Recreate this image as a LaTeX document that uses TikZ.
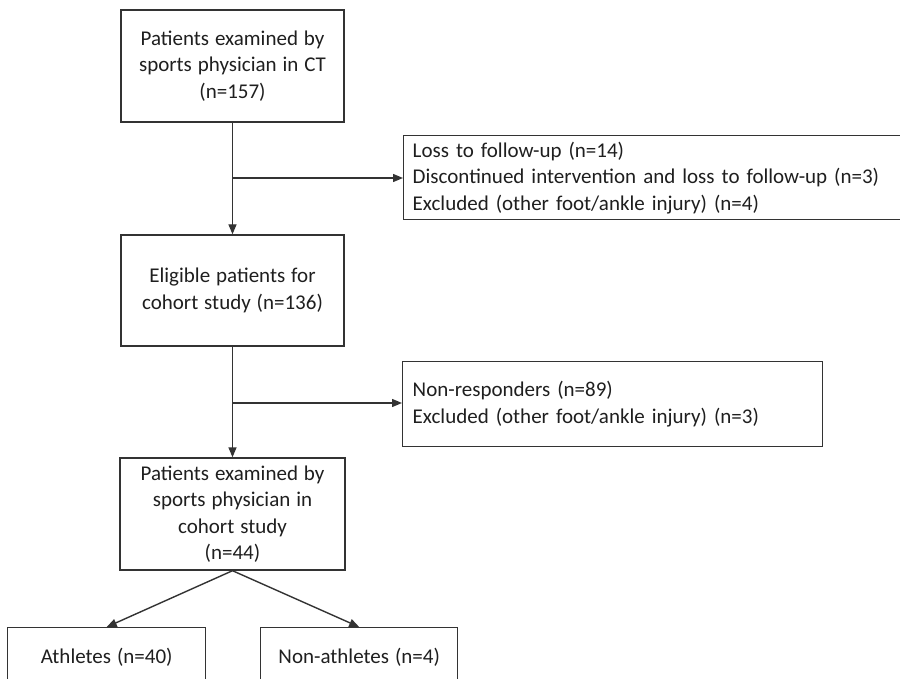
\documentclass[tikz,border=0pt]{standalone}
\usepackage{fontspec}
\setmainfont{Carlito}[WordSpace={1.25}]
\usetikzlibrary{arrows.meta}
\begin{document}
\begin{tikzpicture}[x=1pt,y=-1pt,
  ink/.style={draw=black!80,line width=1.4pt},
  flowbox/.style={ink,rectangle,inner sep=0pt,text=black!88,
    font=\fontsize{21}{26.5}\selectfont,align=center},
  sidebox/.style={flowbox,align=left,text width=#1},
  flow/.style={ink,-{Triangle[length=10pt,width=8pt]}}]
  \useasboundingbox (0,0) rectangle (900,679);
  \clip (0,0) rectangle (900,679);
  \fill[white] (0,0) rectangle (900,679);

  % main column
  \node[flowbox,minimum width=223pt,minimum height=112pt] (ct) at (232.5,66)
    {Patients examined by\\sports physician in CT\\(n=157)};
  \node[flowbox,minimum width=223pt,minimum height=111pt] (elig) at (232.5,290.5)
    {Eligible patients for\\cohort study (n=136)};
  \node[flowbox,minimum width=225pt,minimum height=112pt] (coh) at (232.5,514)
    {Patients examined by\\sports physician in\\cohort study\\(n=44)};

  % exclusions on the right
  \node[sidebox=480pt,minimum width=498pt,minimum height=84pt,anchor=north west,
        inner xsep=7pt] (loss) at (403,135)
    {Loss to follow-up (n=14)\\Discontinued intervention and loss to follow-up (n=3)\\Excluded (other foot/ankle injury) (n=4)};
  \node[sidebox=400pt,minimum width=420pt,minimum height=85pt,anchor=north west,
        inner xsep=7pt] (nonresp) at (402,361)
    {Non-responders (n=89)\\Excluded (other foot/ankle injury) (n=3)};

  % subgroups at the bottom
  \node[flowbox,minimum width=198pt,minimum height=60pt,anchor=north west] (ath) at (7,627)
    {Athletes (n=40)};
  \node[flowbox,minimum width=197pt,minimum height=60pt,anchor=north west] (nonath) at (260,627)
    {Non-athletes (n=4)};

  % branch points on the main column
  \coordinate (br1) at (232.5,178);
  \coordinate (br2) at (232.5,403);

  \draw[flow] (ct.south) -- (elig.north);
  \draw[flow] (elig.south) -- (coh.north);
  \draw[flow] (br1) -- (br1 -| loss.west);
  \draw[flow] (br2) -- (br2 -| nonresp.west);
  \draw[flow] (coh.south) -- (ath.north);
  \draw[flow] (coh.south) -- (nonath.north);
\end{tikzpicture}
\end{document}
